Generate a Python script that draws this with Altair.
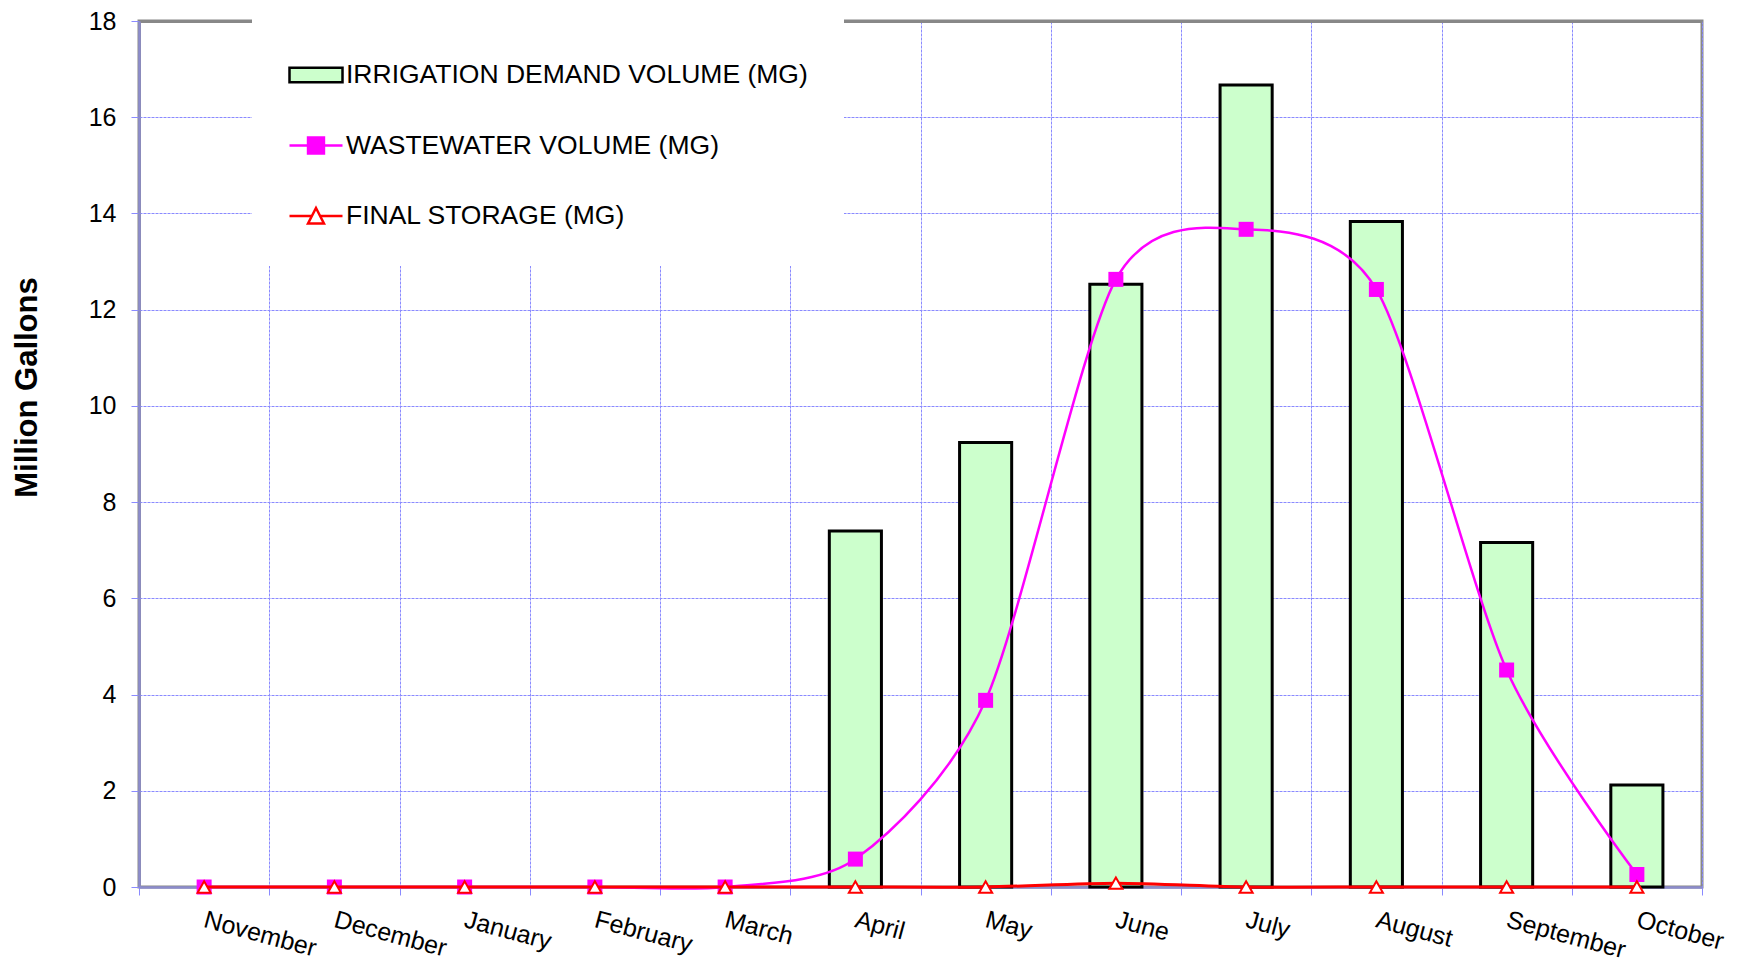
import altair as alt
import pandas as pd

months = ["November", "December", "January", "February", "March", "April",
          "May", "June", "July", "August", "September", "October"]
irrigation = [0, 0, 0, 0, 0, 7.40, 9.24, 12.53, 16.67, 13.83, 7.16, 2.12]
wastewater = [0, 0, 0, 0, 0, 0.58, 3.88, 12.63, 13.67, 12.42, 4.51, 0.26]
storage = [0, 0, 0, 0, 0, 0, 0, 0.08, 0, 0, 0, 0]

IRR = "IRRIGATION DEMAND VOLUME (MG)"
WW = "WASTEWATER VOLUME (MG)"
FS = "FINAL STORAGE (MG)"
series_names = [IRR, WW, FS]
fill_colors = ["#CCFFCC", "#FF00FF", "#FFFFFF"]
stroke_colors = ["#000000", "#FF00FF", "#FF0000"]
y_ticks = list(range(0, 19, 2))

rows = []
for name, vals in zip(series_names, [irrigation, wastewater, storage]):
    for m, v in zip(months, vals):
        rows.append({"month": m, "series": name, "value": v})
df = pd.DataFrame(rows)

FONT = "Liberation Sans"
GRID = "#8A8AFF"
BORDER = "#888888"

legend_shapes = [
    "M-1,-0.27H1V0.27H-1Z",
    "M-1,0H1M-0.3,-0.3H0.3V0.3H-0.3Z",
    "M-1,0H-0.15M0.15,0H1M0,-0.3L0.3,0.28H-0.3Z",
]

legend = alt.Legend(
    title=None,
    orient="none",
    legendX=113,
    legendY=-10,
    padding=36,
    fillColor="white",
    labelFont=FONT,
    labelFontSize=26.5,
    labelColor="black",
    labelLimit=1000,
    labelOffset=2,
    rowPadding=28.5,
    symbolSize=2809,
    symbolStrokeWidth=2.5,
    symbolOpacity=1,
)

x_enc = alt.X(
    "month:N",
    sort=months,
    scale=alt.Scale(domain=months, paddingInner=0, paddingOuter=0),
    axis=alt.Axis(
        title=None,
        labelAngle=15,
        labelAlign="left",
        labelBaseline="top",
        labelFont=FONT,
        labelFontSize=25,
        labelColor="black",
        labelPadding=12,
        labelOffset=3,
        tickSize=8,
        tickColor=GRID,
        tickBand="extent",
        grid=True,
        gridColor={"condition": {"test": "datum.extra", "value": BORDER}, "value": GRID},
        gridDash={"condition": {"test": "datum.extra", "value": []}, "value": [3, 1]},
        gridWidth={"condition": {"test": "datum.extra", "value": 3}, "value": 1},
        domainColor="#8C8CCC",
        domainWidth=2.5,
    ),
)

y_enc = alt.Y(
    "value:Q",
    scale=alt.Scale(domain=[0, 18], nice=False),
    axis=alt.Axis(
        title="Million Gallons",
        titleFont=FONT,
        titleFontSize=31,
        titleFontWeight="bold",
        titleColor="black",
        titleAngle=270,
        titleX=-112,
        titleY=366,
        titleAlign="center",
        titleBaseline="middle",
        values=y_ticks,
        labelFont=FONT,
        labelFontSize=25,
        labelColor="black",
        labelPadding=15,
        tickSize=8,
        tickColor=GRID,
        grid=True,
        gridColor={"condition": {"test": "datum.value === 18", "value": BORDER}, "value": GRID},
        gridDash={"condition": {"test": "datum.value === 18", "value": []}, "value": [3, 1]},
        gridWidth={"condition": {"test": "datum.value === 18", "value": 3}, "value": 1},
        domainColor="#8C8CCC",
        domainWidth=2.5,
    ),
)

base = alt.Chart(df)

bars = base.transform_filter(
    (alt.datum.series == IRR) & (alt.datum.value > 0)
).mark_bar(
    width=alt.RelativeBandSize(0.4), fill="#CCFFCC", stroke="black",
    strokeWidth=3, opacity=1
).encode(x=x_enc, y=y_enc)

ww_line = base.transform_filter(alt.datum.series == WW).mark_line(
    interpolate="cardinal", tension=0.2, strokeWidth=2.5, color="#FF00FF"
).encode(x=alt.X("month:N", sort=months), y="value:Q")

ww_pts = base.transform_filter(alt.datum.series == WW).mark_point(
    shape="square", filled=True, color="#FF00FF", size=225, opacity=1
).encode(x=alt.X("month:N", sort=months), y="value:Q")

fs_line = base.transform_filter(alt.datum.series == FS).mark_line(
    interpolate="cardinal", tension=0.2, strokeWidth=3, color="#FF0000"
).encode(x=alt.X("month:N", sort=months), y="value:Q")

fs_pts = base.transform_filter(alt.datum.series == FS).mark_point(
    shape="triangle-up", filled=True, fill="white", stroke="#FF0000",
    strokeWidth=2, size=170, opacity=1
).encode(x=alt.X("month:N", sort=months), y="value:Q")

# legend-only layer: carries the series scales, draws no marks
legend_layer = base.transform_filter("false").mark_point(
    strokeWidth=2.5, opacity=1
).encode(
    x=alt.X("month:N", sort=months),
    y="value:Q",
    fill=alt.Fill("series:N", scale=alt.Scale(domain=series_names, range=fill_colors), legend=legend),
    stroke=alt.Stroke("series:N", scale=alt.Scale(domain=series_names, range=stroke_colors), legend=legend),
    shape=alt.Shape("series:N", scale=alt.Scale(domain=series_names, range=legend_shapes), legend=legend),
)

chart = alt.layer(bars, ww_line, ww_pts, fs_line, fs_pts, legend_layer).properties(
    width=1563,
    height=866,
    autosize="none",
    padding={"left": 131, "top": 13, "right": 34, "bottom": 76},
).configure(
    font=FONT,
    view=alt.ViewConfig(stroke=BORDER, strokeWidth=3),
)

chart.save("out.html", embed_options={"renderer": "svg", "actions": False})
